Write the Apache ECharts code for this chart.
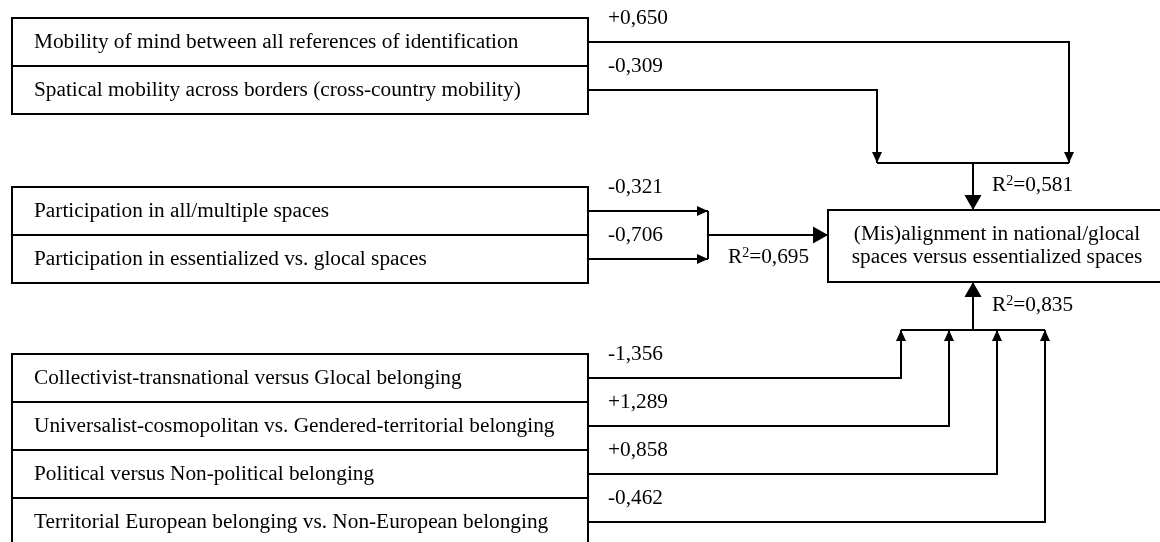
<!DOCTYPE html>
<html>
<head>
<meta charset="utf-8">
<title>Path model</title>
<script src="https://cdn.jsdelivr.net/npm/echarts@6/dist/echarts.min.js"></script>
<style>
  html, body { margin: 0; padding: 0; background: #fff; }
  #chart { width: 1160px; height: 542px; }
</style>
</head>
<body>
<div id="chart"></div>
<script>
// predictor blocks and their path coefficients
const mobilityLabels = [
  'Mobility of mind between all references of identification',
  'Spatical mobility across borders (cross-country mobility)'
]
const mobilityCoefs = ['+0,650', '-0,309']

const participationLabels = [
  'Participation in all/multiple spaces',
  'Participation in essentialized vs. glocal spaces'
]
const participationCoefs = ['-0,321', '-0,706']

const belongingLabels = [
  'Collectivist-transnational versus Glocal belonging',
  'Universalist-cosmopolitan vs. Gendered-territorial belonging',
  'Political versus Non-political belonging',
  'Territorial European belonging vs. Non-European belonging'
]
const belongingCoefs = ['-1,356', '+1,289', '+0,858', '-0,462']

const outcomeLines = ['(Mis)alignment in national/glocal', 'spaces versus essentialized spaces']
const rSquared = ['0,581', '0,695', '0,835']

// layout (pixel space of the 1160 x 542 canvas)
const font = '21.3px "Liberation Serif", "Times New Roman", serif'
const boxLeft = 12
const boxRight = 588
const rowH = 48
const textX = 34
const coefX = 608
const blocks = [
  { labels: mobilityLabels, coefs: mobilityCoefs, top: 18, ends: [1069, 877], dir: 'down', joinY: 163, r2: [992, 185] },
  { labels: participationLabels, coefs: participationCoefs, top: 187, ends: [708, 708], dir: 'right', joinX: 708, r2: [728, 257] },
  { labels: belongingLabels, coefs: belongingCoefs, top: 354, ends: [901, 949, 997, 1045], dir: 'up', joinY: 330, r2: [992, 305] }
]
const outcome = { left: 828, right: 1166, top: 210, bottom: 282, trunkX: 973 }

const rows = []
blocks.forEach((b, bi) => b.labels.forEach((_, ri) => rows.push([bi, ri])))

function arrowHead(from, to, w, len) {
  const dx = to[0] - from[0]
  const dy = to[1] - from[1]
  const d = Math.sqrt(dx * dx + dy * dy) || 1
  const ux = dx / d, uy = dy / d
  const bx = to[0] - ux * len, by = to[1] - uy * len
  return {
    type: 'polygon',
    shape: { points: [to, [bx - uy * w / 2, by + ux * w / 2], [bx + uy * w / 2, by - ux * w / 2]] },
    style: { fill: '#000' }
  }
}

const lineStyle = { stroke: '#000', lineWidth: 2, fill: null }

function renderRow(params, api) {
  const b = blocks[api.value(0)]
  const i = api.value(1)
  const p = (x, y) => api.coord([x, y])
  const y0 = b.top + i * rowH
  const yc = y0 + rowH / 2
  const tl = p(boxLeft, y0)
  const br = p(boxRight, y0 + rowH)
  const end = b.ends[i]
  let pts
  if (b.dir === 'right') {
    pts = [p(boxRight, yc), p(end, yc)]
  } else {
    pts = [p(boxRight, yc), p(end, yc), p(end, b.joinY)]
  }
  const textPos = p(textX, yc)
  const coefPos = p(coefX, y0)
  return {
    type: 'group',
    children: [
      {
        type: 'rect',
        shape: { x: tl[0], y: tl[1], width: br[0] - tl[0], height: br[1] - tl[1] },
        style: { fill: '#fff', stroke: '#000', lineWidth: 2 }
      },
      {
        type: 'text', x: textPos[0], y: textPos[1],
        style: { text: b.labels[i], font: font, fill: '#000', verticalAlign: 'middle', align: 'left' }
      },
      { type: 'polyline', shape: { points: pts }, style: lineStyle },
      arrowHead(pts[pts.length - 2], pts[pts.length - 1], 10, 11),
      {
        type: 'text', x: coefPos[0], y: coefPos[1],
        style: { text: b.coefs[i], font: font, fill: '#000', verticalAlign: 'middle', align: 'left' }
      }
    ]
  }
}

function r2Text(value, pos) {
  return {
    type: 'text', x: pos[0], y: pos[1],
    style: {
      text: '{r|R}{s|2}{r|=' + value + '}',
      verticalAlign: 'middle',
      align: 'left',
      rich: {
        r: { font: font, fill: '#000', lineHeight: 22 },
        s: { font: '14px "Liberation Serif", serif', fill: '#000', verticalAlign: 'top', lineHeight: 14, padding: [0, 0, 10, 0] }
      }
    }
  }
}

function renderJoin(params, api) {
  const bi = api.value(0)
  const b = blocks[bi]
  const p = (x, y) => api.coord([x, y])
  const children = []
  let trunk
  if (b.dir === 'right') {
    const y1 = b.top + rowH / 2
    const y2 = b.top + rowH * 1.5
    const ym = b.top + rowH
    children.push({ type: 'polyline', shape: { points: [p(b.joinX, y1), p(b.joinX, y2)] }, style: lineStyle })
    trunk = [p(b.joinX, ym), p(outcome.left, ym)]
  } else {
    const xs = b.ends
    children.push({ type: 'polyline', shape: { points: [p(Math.min(...xs), b.joinY), p(Math.max(...xs), b.joinY)] }, style: lineStyle })
    trunk = [p(outcome.trunkX, b.joinY), p(outcome.trunkX, b.dir === 'down' ? outcome.top : outcome.bottom)]
  }
  children.push({ type: 'polyline', shape: { points: trunk }, style: lineStyle })
  children.push(arrowHead(trunk[0], trunk[1], 17, 15))
  children.push(r2Text(rSquared[bi], p(b.r2[0], b.r2[1])))
  return { type: 'group', children }
}

function renderOutcome(params, api) {
  const tl = api.coord([outcome.left, outcome.top])
  const br = api.coord([outcome.right, outcome.bottom])
  const cx = (tl[0] + br[0]) / 2
  const cy = (tl[1] + br[1]) / 2
  return {
    type: 'group',
    children: [
      {
        type: 'rect',
        shape: { x: tl[0], y: tl[1], width: br[0] - tl[0], height: br[1] - tl[1] },
        style: { fill: '#fff', stroke: '#000', lineWidth: 2 }
      },
      {
        type: 'text', x: cx, y: cy,
        style: { text: outcomeLines.join('\n'), font: font, lineHeight: 23, fill: '#000', align: 'center', verticalAlign: 'middle' }
      }
    ]
  }
}

const chart = echarts.init(document.getElementById('chart'))
chart.setOption({
  backgroundColor: '#fff',
  animation: false,
  grid: { left: 0, right: 0, top: 0, bottom: 0 },
  xAxis: { type: 'value', min: 0, max: 1160, show: false },
  yAxis: { type: 'value', min: 0, max: 542, inverse: true, show: false },
  series: [
    { type: 'custom', coordinateSystem: 'cartesian2d', clip: false, data: [0, 1, 2].map(i => [i]), renderItem: renderJoin, silent: true },
    { type: 'custom', coordinateSystem: 'cartesian2d', clip: false, data: rows, renderItem: renderRow, silent: true },
    { type: 'custom', coordinateSystem: 'cartesian2d', clip: false, data: [[0]], renderItem: renderOutcome, silent: true }
  ]
})
</script>
</body>
</html>
